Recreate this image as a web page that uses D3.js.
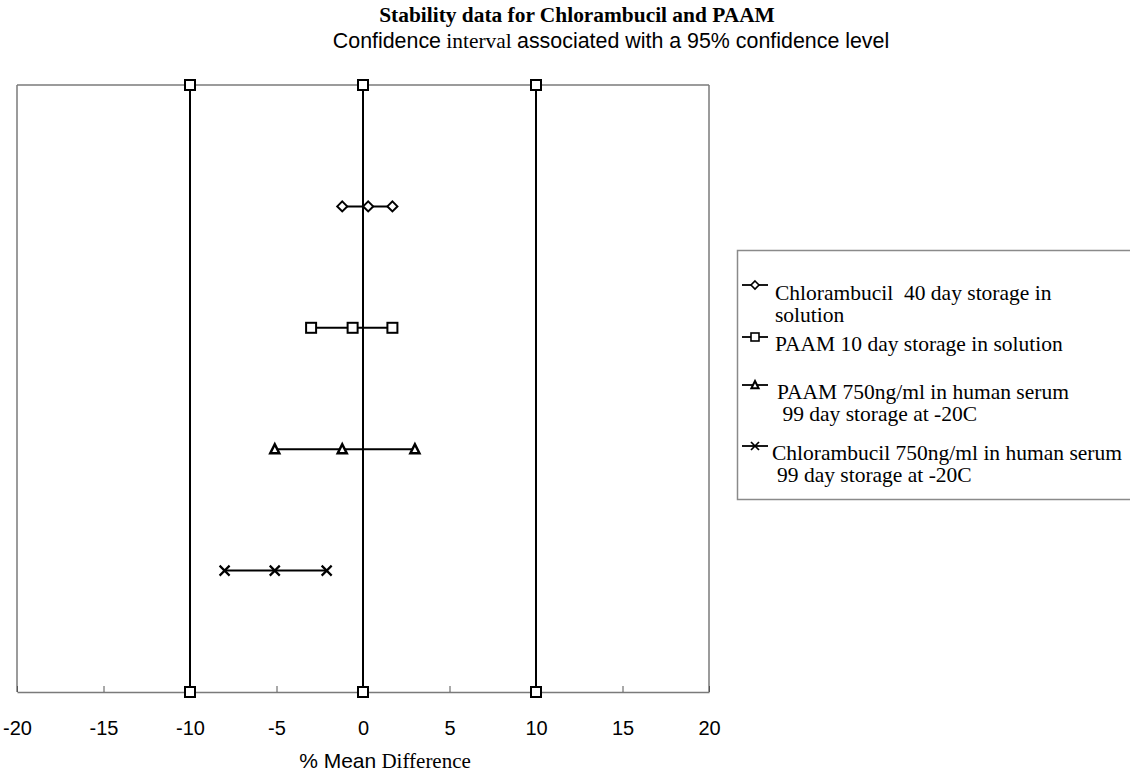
<!DOCTYPE html>
<html>
<head>
<meta charset="utf-8">
<script src="https://cdn.jsdelivr.net/npm/d3@7"></script>
<style>
  body { margin: 0; background: #fff; }
  svg { display: block; }
</style>
</head>
<body>
<svg width="1130" height="775"></svg>
<script>
// rows from top to bottom
var seriesNames = ['Chlorambucil 40 day', 'PAAM 10 day', 'PAAM 750ng/ml 99 day', 'Chlorambucil 750ng/ml 99 day'];
var seriesShapes = ['diamond', 'square', 'triangle', 'cross'];
var rowPos = [4, 3, 2, 1];
var lowerCI = [-1.2, -3.0, -5.1, -8.0];
var meanDiff = [0.3, -0.6, -1.2, -5.1];
var upperCI = [1.7, 1.7, 3.0, -2.1];

// acceptance limits drawn as vertical lines
var limitValues = [-10, 0, 10];
var limitRows = [0, 5];

var xTicks = [-20, -15, -10, -5, 0, 5, 10, 15, 20];

var legendLines = [
  ['Chlorambucil  40 day storage in', 'solution'],
  ['PAAM 10 day storage in solution'],
  ['PAAM 750ng/ml in human serum', '\u00a099 day storage at -20C'],
  ['Chlorambucil 750ng/ml in human serum', '99 day storage at -20C']
];

var svg = d3.select('svg');
var x = d3.scaleLinear().domain([-20, 20]).range([17, 709]);
var y = d3.scaleLinear().domain([0, 5]).range([692, 85]);

var sans = '"Liberation Sans", Arial, sans-serif';
var serif = '"Liberation Serif", "Times New Roman", serif';

function marker(g, shape, cx, cy) {
  var s = 5;
  if (shape == 'square') {
    g.append('rect').attr('x', cx - s).attr('y', cy - s).attr('width', 2 * s).attr('height', 2 * s)
      .attr('fill', '#fff').attr('stroke', '#000').attr('stroke-width', 2);
  } else if (shape == 'diamond') {
    g.append('path').attr('d', 'M' + cx + ',' + (cy - s) + 'L' + (cx + s) + ',' + cy + 'L' + cx + ',' + (cy + s) + 'L' + (cx - s) + ',' + cy + 'Z')
      .attr('fill', '#fff').attr('stroke', '#000').attr('stroke-width', 2);
  } else if (shape == 'triangle') {
    g.append('path').attr('d', 'M' + cx + ',' + (cy - s) + 'L' + (cx + s - 0.5) + ',' + (cy + s - 1) + 'L' + (cx - s + 0.5) + ',' + (cy + s - 1) + 'Z')
      .attr('fill', '#fff').attr('stroke', '#000').attr('stroke-width', 2.5);
  } else {
    g.append('path').attr('d', 'M' + (cx - s) + ',' + (cy - s) + 'L' + (cx + s) + ',' + (cy + s) + 'M' + (cx + s) + ',' + (cy - s) + 'L' + (cx - s) + ',' + (cy + s))
      .attr('stroke', '#000').attr('stroke-width', 2.2);
  }
}

// titles
svg.append('text').attr('x', 577).attr('y', 22).attr('text-anchor', 'middle')
  .style('font-family', serif).style('font-weight', 'bold').style('font-size', '21.4px')
  .text('Stability data for Chlorambucil and PAAM');
var sub = svg.append('text').attr('x', 611).attr('y', 48).attr('text-anchor', 'middle').style('font-size', '21.4px');
sub.append('tspan').style('font-family', sans).text('Confidence');
sub.append('tspan').style('font-family', serif).text(' interval ');
sub.append('tspan').style('font-family', sans).text('associated with a 95% confidence level');

// plot frame
var frame = svg.append('g').attr('stroke', '#7a7a7a').attr('stroke-width', 1.5).attr('fill', 'none');
frame.append('line').attr('x1', x(-20)).attr('x2', x(20)).attr('y1', y(5)).attr('y2', y(5));
frame.append('line').attr('x1', x(-20)).attr('x2', x(-20)).attr('y1', y(5)).attr('y2', y(0));
frame.append('line').attr('x1', x(20)).attr('x2', x(20)).attr('y1', y(5)).attr('y2', y(0));

// x axis
var xAxis = svg.append('g').attr('transform', 'translate(0,' + y(0) + ')')
  .call(d3.axisBottom(x).tickValues(xTicks).tickFormat(function(d) { return String(d); })
    .tickSizeInner(-6).tickSizeOuter(0).tickPadding(29));
xAxis.select('.domain').attr('stroke', '#7a7a7a').attr('stroke-width', 1.5);
xAxis.selectAll('.tick line').attr('stroke', '#555');
xAxis.selectAll('text').attr('fill', '#000')
  .style('font-family', sans).style('font-size', '20px');

var xt = svg.append('text').attr('x', 385).attr('y', 768).attr('text-anchor', 'middle').style('font-size', '21px');
xt.append('tspan').style('font-family', sans).text('% Mean');
xt.append('tspan').style('font-family', serif).text(' Difference');

// limit lines
limitValues.forEach(function(v) {
  svg.append('line').attr('x1', x(v)).attr('x2', x(v)).attr('y1', y(5)).attr('y2', y(0))
    .attr('stroke', '#000').attr('stroke-width', 2);
});
limitValues.forEach(function(v) {
  limitRows.forEach(function(r) { marker(svg, 'square', x(v), y(r)); });
});

// confidence intervals
var rows = svg.selectAll('g.row').data(seriesNames).enter().append('g').attr('class', 'row');
rows.append('line')
  .attr('x1', function(d, i) { return x(lowerCI[i]); })
  .attr('x2', function(d, i) { return x(upperCI[i]); })
  .attr('y1', function(d, i) { return y(rowPos[i]); })
  .attr('y2', function(d, i) { return y(rowPos[i]); })
  .attr('stroke', '#000').attr('stroke-width', 2);
rows.each(function(d, i) {
  var g = d3.select(this);
  [lowerCI[i], meanDiff[i], upperCI[i]].forEach(function(v) {
    marker(g, seriesShapes[i], x(v), y(rowPos[i]));
  });
});

// legend
svg.append('rect').attr('x', 737.5).attr('y', 250.5).attr('width', 400).attr('height', 249)
  .attr('fill', 'none').attr('stroke', '#8a8a8a').attr('stroke-width', 1.5);
var legMarkY = [285, 337, 385, 446];
var legTextY = [300, 351, 399, 460];
var legTextX = [775, 775, 777, 772];
legendLines.forEach(function(lines, i) {
  var g = svg.append('g');
  g.append('line').attr('x1', 742).attr('x2', 768).attr('y1', legMarkY[i]).attr('y2', legMarkY[i])
    .attr('stroke', '#000').attr('stroke-width', 1.8);
  var gm = g.append('g').attr('transform', 'translate(755,' + legMarkY[i] + ') scale(0.8) translate(-755,' + (-legMarkY[i]) + ')');
  marker(gm, seriesShapes[i], 755, legMarkY[i]);
  var t = g.append('text').attr('x', legTextX[i]).attr('y', legTextY[i])
    .style('font-family', serif).style('font-size', '21.5px')
    .style('white-space', 'pre');
  lines.forEach(function(l, j) {
    t.append('tspan').attr('x', legTextX[i] + (j > 0 && i == 3 ? 5 : 0)).attr('dy', j == 0 ? 0 : 22).text(l);
  });
});
</script>
</body>
</html>
